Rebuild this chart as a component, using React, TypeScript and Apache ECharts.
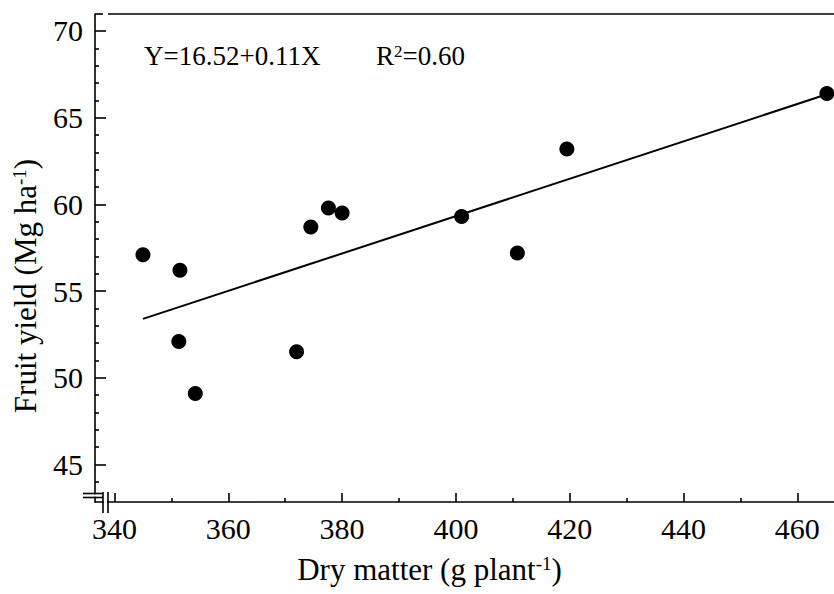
import React, { useEffect, useRef } from "react";
import * as echarts from "echarts";

// ---- data ----
const dryMatter = [345.0, 351.5, 351.3, 354.2, 372.0, 374.5, 377.6, 380.0, 401.0, 410.8, 419.5, 465.2];
const fruitYield = [57.1, 56.2, 52.1, 49.1, 51.5, 58.7, 59.8, 59.5, 59.3, 57.2, 63.2, 66.4];
const fitX = [345.0, 465.2];
const fitY = [53.4, 66.35];

const xTicks = [340, 360, 380, 400, 420, 440, 460];
const xMinorTicks = [350, 370, 390, 410, 430, 450];
const yTicks = [45, 50, 55, 60, 65, 70];
const yMinorTicks = [44, 46, 47, 48, 49, 51, 52, 53, 54, 56, 57, 58, 59, 61, 62, 63, 64, 66, 67, 68, 69];

const xMin = 336.57;
const xMax = 466.45;
const yMin = 42.84;
const yMax = 70.98;

const FONT = "Liberation Serif";
const INK = "#000";

export default function App() {
  const ref = useRef<HTMLDivElement>(null);

  useEffect(() => {
    if (!ref.current) return;
    const chart = echarts.init(ref.current, undefined, { renderer: "svg" });

    const points = dryMatter.map((x, i) => [x, fruitYield[i]]);
    const fit = fitX.map((x, i) => [x, fitY[i]]);

    const lineW = 1.6;

    chart.setOption({
      animation: false,
      backgroundColor: "#fff",
      grid: { left: 95, top: 14, right: 0, bottom: 92, containLabel: false },
      xAxis: [
        {
          type: "value",
          min: xMin,
          max: xMax,
          position: "bottom",
          axisLine: { show: true, onZero: false, lineStyle: { color: INK, width: lineW } },
          axisTick: { show: true, inside: true, length: 9, customValues: xTicks, lineStyle: { color: INK, width: lineW } },
          axisLabel: { show: true, customValues: xTicks, margin: 11, fontSize: 30, fontFamily: FONT, color: INK },
          splitLine: { show: false },
          name: "Dry matter (g plant{sup|-1})",
          nameLocation: "middle",
          nameGap: 52,
          nameTextStyle: {
            fontSize: 31,
            fontFamily: FONT,
            color: INK,
            padding: [0, 70, 0, 0],
            rich: {
              sup: { fontSize: 19, fontFamily: FONT, color: INK, verticalAlign: "top", padding: [0, 0, 12, 0] },
            },
          },
        },
        {
          type: "value",
          min: xMin,
          max: xMax,
          position: "bottom",
          axisLine: { show: false, onZero: false },
          axisTick: { show: true, inside: true, length: 4, customValues: xMinorTicks, lineStyle: { color: INK, width: lineW } },
          axisLabel: { show: false },
          splitLine: { show: false },
        },
      ],
      yAxis: [
        {
          type: "value",
          min: yMin,
          max: yMax,
          position: "left",
          axisLine: { show: true, onZero: false, lineStyle: { color: INK, width: lineW } },
          axisTick: { show: true, inside: true, length: 11, customValues: yTicks, lineStyle: { color: INK, width: lineW } },
          axisLabel: { show: true, customValues: yTicks, margin: 12, fontSize: 30, fontFamily: FONT, color: INK },
          splitLine: { show: false },
          name: "Fruit yield (Mg ha{sup|-1})",
          nameLocation: "middle",
          nameGap: 54,
          nameTextStyle: {
            fontSize: 31,
            fontFamily: FONT,
            color: INK,
            padding: [0, 56, 0, 0],
            rich: {
              sup: { fontSize: 19, fontFamily: FONT, color: INK, verticalAlign: "top", padding: [0, 0, 12, 0] },
            },
          },
        },
        {
          type: "value",
          min: yMin,
          max: yMax,
          position: "left",
          axisLine: { show: false, onZero: false },
          axisTick: { show: true, inside: true, length: 4, customValues: yMinorTicks, lineStyle: { color: INK, width: lineW } },
          axisLabel: { show: false },
          splitLine: { show: false },
        },
      ],
      series: [
        {
          type: "line",
          data: fit,
          xAxisIndex: 0,
          yAxisIndex: 0,
          symbol: "none",
          lineStyle: { color: INK, width: 2 },
          silent: true,
          z: 2,
        },
        {
          type: "scatter",
          data: points,
          xAxisIndex: 0,
          yAxisIndex: 0,
          symbol: "circle",
          symbolSize: 15,
          itemStyle: { color: INK, opacity: 1 },
          z: 3,
        },
      ],
      graphic: [
        // y-axis break
        { type: "rect", z: 100, shape: { x: 90, y: 494.3, width: 10, height: 2.4 }, style: { fill: "#fff" } },
        { type: "line", z: 101, shape: { x1: 83, y1: 493.5, x2: 103, y2: 493.5 }, style: { stroke: INK, lineWidth: lineW } },
        { type: "line", z: 101, shape: { x1: 83, y1: 497.5, x2: 103, y2: 497.5 }, style: { stroke: INK, lineWidth: lineW } },
        // x-axis break
        { type: "rect", z: 100, shape: { x: 103.8, y: 498, width: 3.4, height: 8 }, style: { fill: "#fff" } },
        { type: "line", z: 101, shape: { x1: 103, y1: 492, x2: 103, y2: 513 }, style: { stroke: INK, lineWidth: lineW } },
        { type: "line", z: 101, shape: { x1: 108, y1: 492, x2: 108, y2: 513 }, style: { stroke: INK, lineWidth: lineW } },
        // top frame
        { type: "line", z: 101, shape: { x1: 95, y1: 14, x2: 103, y2: 14 }, style: { stroke: INK, lineWidth: lineW } },
        { type: "line", z: 101, shape: { x1: 108, y1: 14, x2: 834, y2: 14 }, style: { stroke: INK, lineWidth: lineW } },
        // regression annotation
        {
          type: "text",
          z: 101,
          x: 144,
          y: 56,
          style: { text: "Y=16.52+0.11X", fontSize: 27, fontFamily: FONT, fill: INK, align: "left", verticalAlign: "middle" },
        },
        {
          type: "text",
          z: 101,
          x: 376,
          y: 56,
          style: {
            text: "R{sup|2}=0.60",
            fontSize: 27,
            fontFamily: FONT,
            fill: INK,
            align: "left",
            verticalAlign: "middle",
            rich: {
              sup: { fontSize: 17, fontFamily: FONT, fill: INK, verticalAlign: "top", padding: [0, 0, 10, 0] },
            },
          },
        },
      ],
    });

    return () => chart.dispose();
  }, []);

  return (
    <div
      ref={ref}
      style={{ position: "fixed", left: 0, top: 0, width: 834, height: 594, background: "#fff" }}
    />
  );
}
